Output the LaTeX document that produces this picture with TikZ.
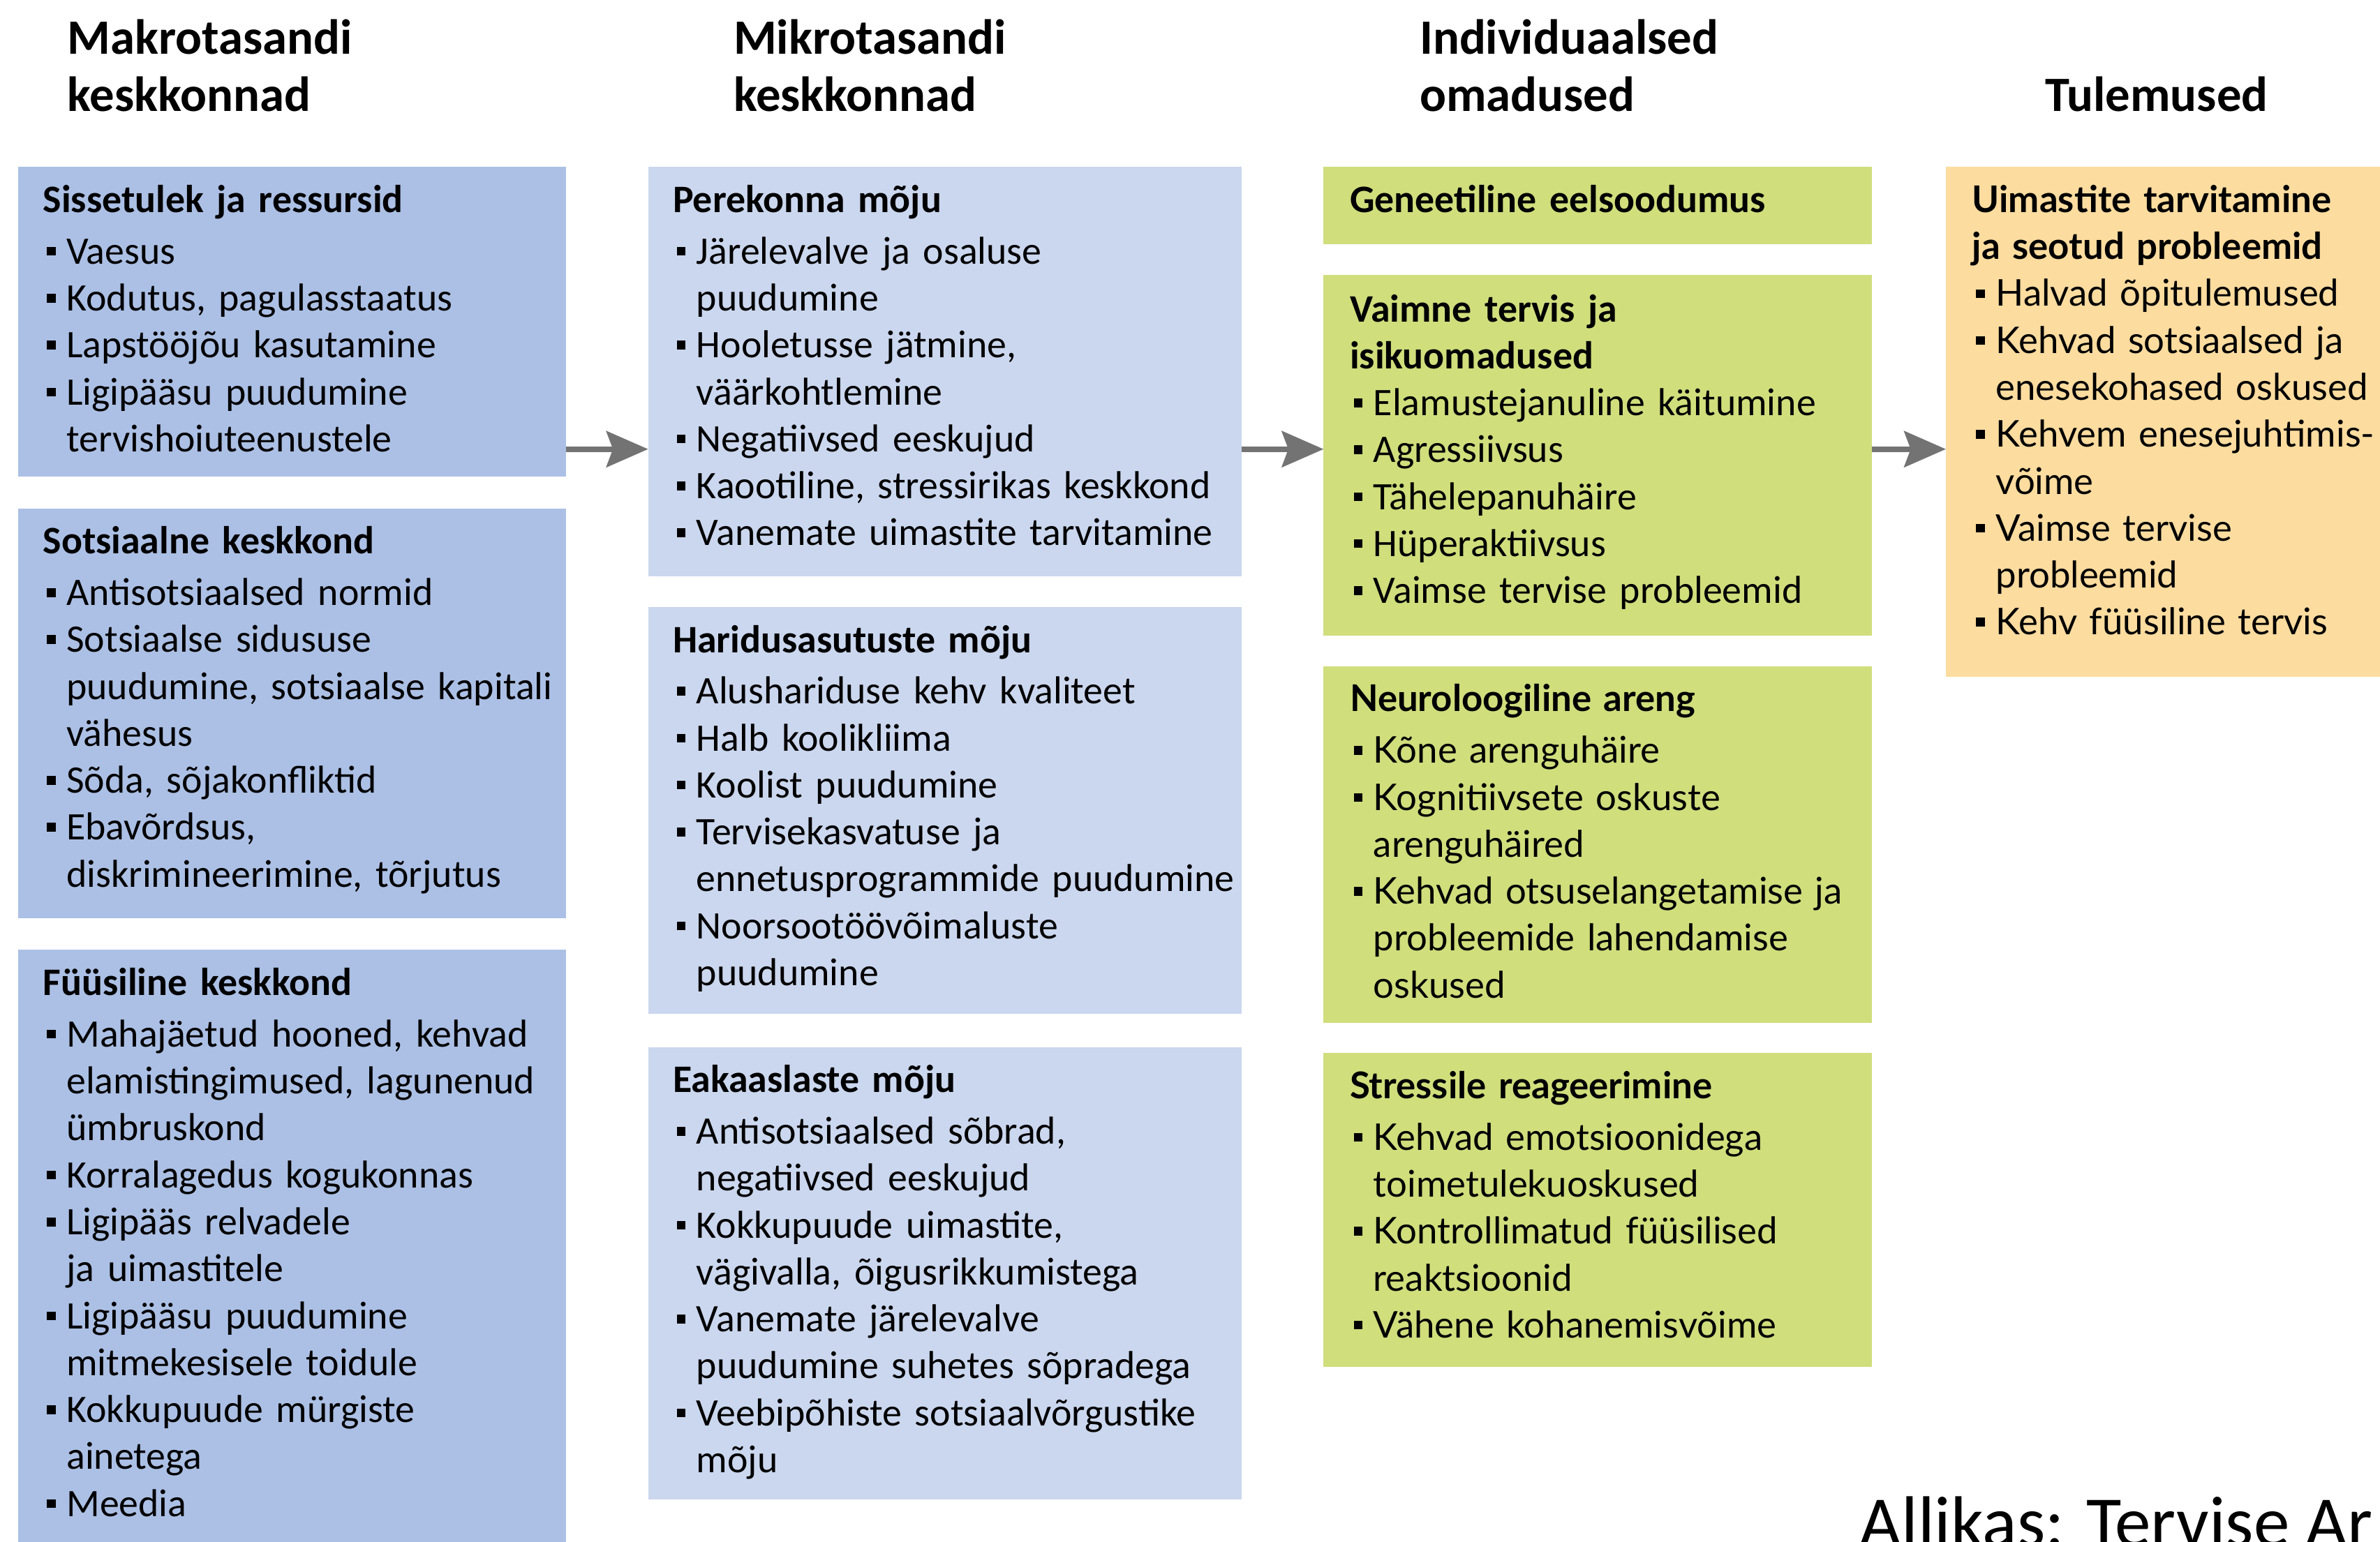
\documentclass[tikz,border=0pt]{standalone}
\usepackage{fontspec}
\setmainfont{Carlito}
\newfontfamily\widefont{Lato}
\usetikzlibrary{positioning, arrows.meta}

\definecolor{makroblue}{RGB}{172,192,229}
\definecolor{mikroblue}{RGB}{203,215,238}
\definecolor{indivgreen}{RGB}{208,222,124}
\definecolor{tulemorange}{RGB}{252,220,159}
\definecolor{flowgray}{RGB}{115,115,115}

\newcommand{\bul}{\makebox[3.1mm][l]{\hspace{0.5mm}\raisebox{1.1mm}{\rule{1.15mm}{1.15mm}}}}
\newcommand{\ind}{\hspace*{3.1mm}}

\tikzset{
  panel/.style={anchor=north west, inner sep=0pt, outer sep=0pt},
  makro/.style={panel, fill=makroblue, minimum width=72.2mm},
  mikro/.style={panel, fill=mikroblue, minimum width=78.2mm},
  indiv/.style={panel, fill=indivgreen, minimum width=72.2mm},
  tulem/.style={panel, fill=tulemorange, minimum width=62mm},
  txt/.style={anchor=base west, inner sep=0pt, text width=95mm, align=left,
    font=\fontsize{14.6}{17.6}\selectfont},
  widetxt/.style={txt, font=\widefont\fontsize{13.8}{17.6}\selectfont},
  head/.style={anchor=base west, inner sep=0pt, text width=80mm, align=left,
    font=\bfseries\fontsize{18.5}{21.5}\selectfont},
  flow/.style={draw=flowgray, line width=0.7mm,
    -{Stealth[length=5.5mm, width=4.75mm, inset=0.86mm]}},
}

\begin{document}
\begin{tikzpicture}[x=0.2mm, y=-0.2mm]
\useasboundingbox (0,0) rectangle (1568,1016.2);

% column headers
\node[head] (hmakro) at (44,35.5) {Makrotasandi\\keskkonnad};
\node[head] (hmikro) at (483,35.5) {Mikrotasandi\\keskkonnad};
\node[head] (hindiv) at (935,35.5) {Individuaalsed\\omadused};
\node[head] (htulem) at (1347,73.5) {Tulemused};

% boxes
\node[makro, minimum height=40.8mm] (sis) at (12,110) {};
\node[makro, minimum height=54mm] (sots) at (12,335) {};
\node[makro, minimum height=82mm] (fyys) at (12,626) {};
\node[mikro, minimum height=54mm] (per) at (427,110) {};
\node[mikro, minimum height=53.6mm] (har) at (427,400) {};
\node[mikro, minimum height=59.6mm] (eak) at (427,690) {};
\node[indiv, minimum height=10.2mm] (gen) at (872,110) {};
\node[indiv, minimum height=47.6mm] (vaim) at (872,181) {};
\node[indiv, minimum height=47mm] (neur) at (872,439) {};
\node[indiv, minimum height=41.4mm] (stress) at (872,694) {};
\node[tulem, minimum height=67.2mm] (uim) at (1282,110) {};

% box texts
\node[txt] (sistxt) at ([shift={(16,30)}]sis.north west) {\textbf{Sissetulek ja ressursid}\\[0.6mm]
\bul Vaesus\\
\bul Kodutus, pagulasstaatus\\
\bul Lapstööjõu kasutamine\\
\bul Ligipääsu puudumine\\
\ind tervishoiuteenustele};
\node[txt] (sotstxt) at ([shift={(16,30)}]sots.north west) {\textbf{Sotsiaalne keskkond}\\[0.6mm]
\bul Antisotsiaalsed normid\\
\bul Sotsiaalse sidususe\\
\ind puudumine, sotsiaalse kapitali\\
\ind vähesus\\
\bul Sõda, sõjakonfliktid\\
\bul Ebavõrdsus,\\
\ind diskrimineerimine, tõrjutus};
\node[txt] (fyystxt) at ([shift={(16,30)}]fyys.north west) {\textbf{Füüsiline keskkond}\\[0.6mm]
\bul Mahajäetud hooned, kehvad\\
\ind elamistingimused, lagunenud\\
\ind ümbruskond\\
\bul Korralagedus kogukonnas\\
\bul Ligipääs relvadele\\
\ind ja uimastitele\\
\bul Ligipääsu puudumine\\
\ind mitmekesisele toidule\\
\bul Kokkupuude mürgiste\\
\ind ainetega\\
\bul Meedia};
\node[txt] (pertxt) at ([shift={(16,30)}]per.north west) {\textbf{Perekonna mõju}\\[0.6mm]
\bul Järelevalve ja osaluse\\
\ind puudumine\\
\bul Hooletusse jätmine,\\
\ind väärkohtlemine\\
\bul Negatiivsed eeskujud\\
\bul Kaootiline, stressirikas keskkond\\
\bul Vanemate uimastite tarvitamine};
\node[txt] (hartxt) at ([shift={(16,30)}]har.north west) {\textbf{Haridusasutuste mõju}\\[0.6mm]
\bul Alushariduse kehv kvaliteet\\
\bul Halb koolikliima\\
\bul Koolist puudumine\\
\bul Tervisekasvatuse ja\\
\ind ennetusprogrammide puudumine\\
\bul Noorsootöövõimaluste\\
\ind puudumine};
\node[txt] (eaktxt) at ([shift={(16,30)}]eak.north west) {\textbf{Eakaaslaste mõju}\\[0.6mm]
\bul Antisotsiaalsed sõbrad,\\
\ind negatiivsed eeskujud\\
\bul Kokkupuude uimastite,\\
\ind vägivalla, õigusrikkumistega\\
\bul Vanemate järelevalve\\
\ind puudumine suhetes sõpradega\\
\bul Veebipõhiste sotsiaalvõrgustike\\
\ind mõju};
\node[txt] (gentxt) at ([shift={(17,30)}]gen.north west) {\textbf{Geneetiline eelsoodumus}};
\node[txt] (vaimtxt) at ([shift={(17,31)}]vaim.north west) {\textbf{Vaimne tervis ja}\\
\textbf{isikuomadused}\\
\bul Elamustejanuline käitumine\\
\bul Agressiivsus\\
\bul Tähelepanuhäire\\
\bul Hüperaktiivsus\\
\bul Vaimse tervise probleemid};
\node[widetxt] (neurtxt) at ([shift={(17,30)}]neur.north west) {\textbf{Neuroloogiline areng}\\[0.6mm]
\bul Kõne arenguhäire\\
\bul Kognitiivsete oskuste\\
\ind arenguhäired\\
\bul Kehvad otsuselangetamise ja\\
\ind probleemide lahendamise\\
\ind oskused};
\node[widetxt] (stresstxt) at ([shift={(17,30)}]stress.north west) {\textbf{Stressile reageerimine}\\[0.6mm]
\bul Kehvad emotsioonidega\\
\ind toimetulekuoskused\\
\bul Kontrollimatud füüsilised\\
\ind reaktsioonid\\
\bul Vähene kohanemisvõime};
\node[widetxt] (uimtxt) at ([shift={(17,30)}]uim.north west) {\textbf{Uimastite tarvitamine}\\
\textbf{ja seotud probleemid}\\
\bul Halvad õpitulemused\\
\bul Kehvad sotsiaalsed ja\\
\ind enesekohased oskused\\
\bul Kehvem enesejuhtimis-\\
\ind võime\\
\bul Vaimse tervise\\
\ind probleemid\\
\bul Kehv füüsiline tervis};

% source line, cut by the page edge
\node[anchor=base west, inner sep=0pt, font=\fontsize{27}{32}\selectfont] (allikas) at (1225,1019) {Allikas: Tervise Ar};

% arrows
\coordinate (row) at (0,296);
\draw[flow] (sis.east |- row) -- (per.west |- row);
\draw[flow] (per.east |- row) -- (vaim.west |- row);
\draw[flow] (vaim.east |- row) -- (uim.west |- row);
\end{tikzpicture}
\end{document}
